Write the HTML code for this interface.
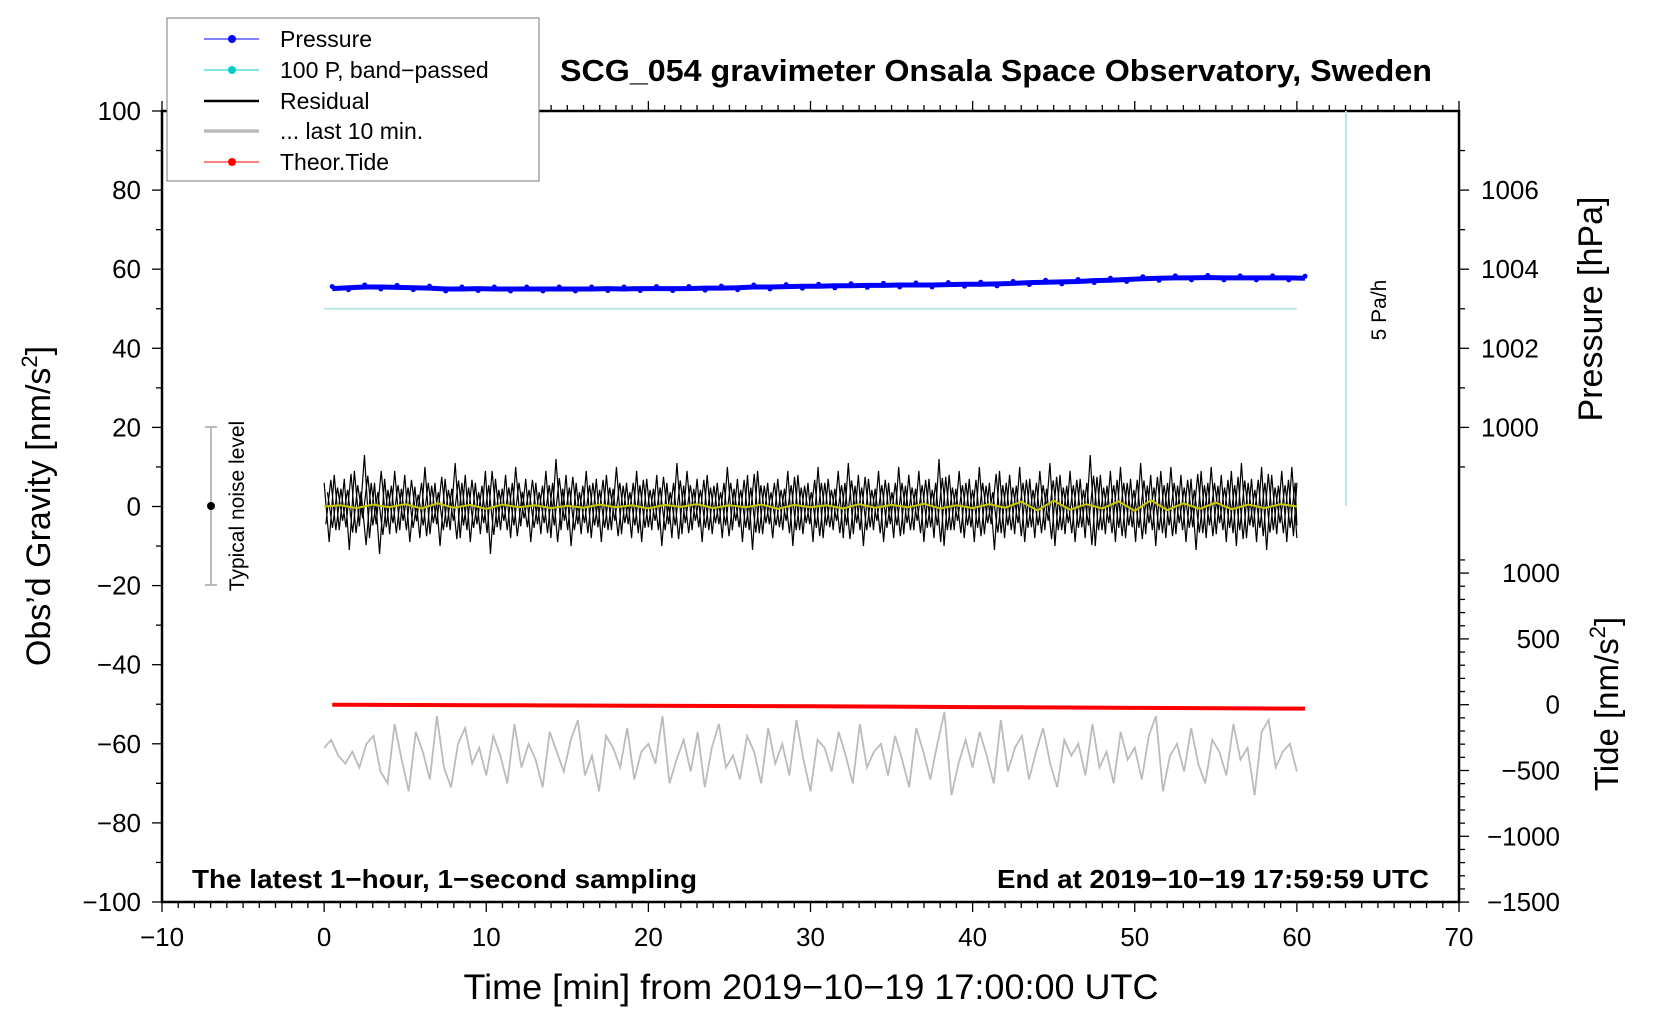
<!DOCTYPE html>
<html><head><meta charset="utf-8"><style>
html,body{margin:0;padding:0;background:#fff;}
svg{display:block;font-family:"Liberation Sans",sans-serif;}
</style></head><body>
<svg id="chart" width="1660" height="1020" viewBox="0 0 1660 1020" xmlns="http://www.w3.org/2000/svg">
<rect width="1660" height="1020" fill="#fff"/>
<g id="axes"></g>
<g id="series"></g>
<text x="996" y="81" text-anchor="middle" font-size="31" font-weight="bold" textLength="872" lengthAdjust="spacingAndGlyphs">SCG_054 gravimeter Onsala Space Observatory, Sweden</text>
<text x="811" y="999" text-anchor="middle" font-size="35" textLength="695" lengthAdjust="spacingAndGlyphs">Time [min] from 2019−10−19 17:00:00 UTC</text>
<text transform="translate(50,506) rotate(-90)" text-anchor="middle" font-size="34">Obs’d Gravity [nm/s<tspan dy="-13" font-size="22">2</tspan><tspan dy="13">]</tspan></text>
<text transform="translate(1602,309) rotate(-90)" text-anchor="middle" font-size="34">Pressure [hPa]</text>
<text transform="translate(1618,704) rotate(-90)" text-anchor="middle" font-size="33">Tide [nm/s<tspan dy="-13" font-size="22">2</tspan><tspan dy="13">]</tspan></text>
<text x="192" y="888" font-size="26" font-weight="bold" textLength="505" lengthAdjust="spacingAndGlyphs">The latest 1−hour, 1−second sampling</text>
<text x="1429" y="888" text-anchor="end" font-size="26" font-weight="bold" textLength="432" lengthAdjust="spacingAndGlyphs">End at 2019−10−19 17:59:59 UTC</text>
<g>
<line x1="211" y1="427" x2="211" y2="585" stroke="#bbb" stroke-width="2"/>
<line x1="205" y1="427" x2="217" y2="427" stroke="#bbb" stroke-width="2"/>
<line x1="205" y1="585" x2="217" y2="585" stroke="#bbb" stroke-width="2"/>
<circle cx="211" cy="506" r="4" fill="#000"/>
<text transform="translate(244,506) rotate(-90)" text-anchor="middle" font-size="21">Typical noise level</text>
</g>
<g>
<line x1="1346" y1="111" x2="1346" y2="506" stroke="#b8e6ea" stroke-width="2"/>
<text transform="translate(1386,310) rotate(-90)" text-anchor="middle" font-size="21">5 Pa/h</text>
</g>
<g>
<rect x="167" y="18" width="372" height="163" fill="#fff" stroke="#777" stroke-width="1"/>
<g><line x1="204" y1="39" x2="259" y2="39" stroke="#00f" stroke-width="1"/><circle cx="232" cy="39" r="4" fill="#00f"/><text x="280" y="47" font-size="23">Pressure</text></g>
<g><line x1="204" y1="70" x2="259" y2="70" stroke="#00cccc" stroke-width="1"/><circle cx="232" cy="70" r="4" fill="#00cccc"/><text x="280" y="78" font-size="23">100 P, band−passed</text></g>
<g><line x1="204" y1="101" x2="259" y2="101" stroke="#000" stroke-width="2.5"/><text x="280" y="109" font-size="23">Residual</text></g>
<g><line x1="204" y1="131" x2="259" y2="131" stroke="#bbb" stroke-width="3.5"/><text x="280" y="139" font-size="23">... last 10 min.</text></g>
<g><line x1="204" y1="162" x2="259" y2="162" stroke="#f00" stroke-width="1"/><circle cx="232" cy="162" r="4" fill="#f00"/><text x="280" y="170" font-size="23">Theor.Tide</text></g>
</g>
</svg>
<script>
const xTicks=[-10,0,10,20,30,40,50,60,70];
const gTicks=[100,80,60,40,20,0,-20,-40,-60,-80,-100];
const pTicks=[1000,1002,1004,1006];
const tTicks=[1000,500,0,-500,-1000,-1500];
const pressure=[1003.51,1003.53,1003.55,1003.55,1003.54,1003.53,1003.52,1003.50,1003.50,1003.51,1003.50,1003.50,1003.50,1003.50,1003.50,1003.50,1003.50,1003.51,1003.50,1003.51,1003.51,1003.51,1003.51,1003.52,1003.52,1003.53,1003.55,1003.55,1003.56,1003.57,1003.57,1003.58,1003.58,1003.59,1003.59,1003.60,1003.60,1003.60,1003.61,1003.62,1003.62,1003.63,1003.64,1003.66,1003.67,1003.68,1003.69,1003.71,1003.72,1003.74,1003.76,1003.77,1003.78,1003.78,1003.79,1003.78,1003.78,1003.78,1003.78,1003.78,1003.77];
const bandPassed=[50,50];
const residual=[6,-9,8,-6,7,-11,9,-5,13,-8,6,-12,7,-7,9,-6,8,-9,5,-8,10,-7,6,-10,7,-6,11,-8,8,-9,6,-7,9,-12,7,-6,8,-8,10,-5,7,-9,6,-7,9,-8,12,-6,8,-10,6,-7,9,-8,7,-9,8,-6,10,-7,6,-8,9,-9,7,-6,8,-10,6,-8,11,-7,9,-6,7,-9,8,-7,6,-8,10,-6,7,-9,8,-11,9,-7,6,-8,7,-6,9,-10,8,-7,6,-9,10,-8,7,-6,9,-8,11,-7,8,-10,7,-6,9,-9,6,-8,10,-7,8,-6,9,-9,7,-8,12,-10,8,-6,9,-8,7,-9,10,-7,6,-11,9,-8,8,-7,10,-9,7,-8,9,-6,11,-10,8,-7,9,-9,7,-8,13,-10,8,-7,9,-9,10,-8,7,-9,11,-7,8,-10,9,-8,10,-7,8,-9,7,-11,9,-8,10,-7,8,-9,9,-10,11,-8,7,-9,10,-11,8,-7,9,-9,10,-8];
const smoothed=[0,0.3,-0.4,0.5,-0.2,0.6,-0.5,0.8,-0.3,0.4,-0.6,0.5,-0.2,0.3,-0.4,0.2,-0.3,0.5,-0.2,0.3,-0.5,0.4,-0.1,0.6,-0.4,0.3,-0.2,0.5,-0.6,0.4,-0.2,0.3,-0.5,0.6,-0.3,0.4,-0.2,0.7,-0.5,0.3,-0.4,0.6,-0.3,1.2,-1.0,1.5,-0.8,0.6,-0.5,1.3,-1.1,1.6,-0.9,0.8,-0.6,1.0,-0.7,0.5,-0.4,0.6,0];
const tideT=[0.5,10,20,30,40,50,60.5];
const tide=[0,-4,-8,-12,-18,-24,-30];
const lastTen=[-61,-59,-63,-65,-62,-66,-60,-58,-67,-70,-55,-64,-72,-57,-62,-69,-53,-66,-71,-60,-56,-65,-61,-68,-58,-63,-70,-55,-66,-60,-64,-71,-57,-62,-67,-59,-54,-68,-63,-72,-58,-61,-66,-56,-69,-62,-60,-65,-53,-70,-64,-59,-67,-57,-71,-61,-55,-66,-63,-69,-58,-62,-70,-56,-65,-60,-68,-54,-64,-72,-59,-61,-67,-57,-63,-70,-55,-66,-62,-60,-68,-58,-64,-71,-56,-62,-69,-60,-52,-73,-65,-59,-66,-57,-63,-70,-54,-67,-61,-58,-69,-62,-56,-65,-71,-59,-63,-60,-68,-55,-66,-62,-70,-57,-64,-61,-69,-58,-53,-72,-63,-60,-67,-56,-65,-70,-59,-62,-68,-55,-64,-61,-73,-57,-54,-66,-62,-60,-67];

const L=162,R=1459,T=111,B=902;
const X=t=>L+(t+10)*(R-L)/80;
const Y=g=>T+(100-g)*(B-T)/200;
const YP=p=>Y(20+(p-1000)*10);
const YT=v=>704.7-v*0.1316;
const NS='http://www.w3.org/2000/svg';
const axes=document.getElementById('axes'), ser=document.getElementById('series');
function mk(tag,attrs,parent){const e=document.createElementNS(NS,tag);for(const k in attrs)e.setAttribute(k,attrs[k]);parent.appendChild(e);return e;}

let frame=mk('rect',{x:L,y:T,width:R-L,height:B-T,fill:'none',stroke:'#000','stroke-width':2.5},axes);



for(let t=-10;t<=70;t++){
  const major=t%10===0, len=major?10:6;
  mk('line',{x1:X(t),y1:B,x2:X(t),y2:B+len,stroke:'#000','stroke-width':1.3},axes);
  mk('line',{x1:X(t),y1:T,x2:X(t),y2:T-len,stroke:'#000','stroke-width':1.3},axes);
}
xTicks.forEach(t=>{
  const e=mk('text',{x:X(t),y:946,'text-anchor':'middle','font-size':26},axes);
  e.textContent=String(t).replace('-','−');
  
  
});
for(let g=-100;g<=100;g+=10){
  const len=g%20===0?10:6;
  mk('line',{x1:L,y1:Y(g),x2:L-len,y2:Y(g),stroke:'#000','stroke-width':1.3},axes);
}
gTicks.forEach(g=>{
  const e=mk('text',{x:141,y:Y(g)+9,'text-anchor':'end','font-size':26},axes);
  e.textContent=String(g).replace('-','−');
  
  
});
for(let p=1000;p<=1007;p++){
  const len=p%2===0?10:6;
  mk('line',{x1:R,y1:YP(p),x2:R+len,y2:YP(p),stroke:'#000','stroke-width':1.3},axes);
}
mk('line',{x1:R,y1:YP(999),x2:R+6,y2:YP(999),stroke:'#000','stroke-width':1.3},axes);
pTicks.forEach(p=>{
  const e=mk('text',{x:1481,y:YP(p)+9,'font-size':26},axes);
  e.textContent=p;
  
  
});
for(let v=-1500;v<=1100;v+=100){
  const len=v%500===0?10:6;
  mk('line',{x1:R,y1:YT(v),x2:R+len,y2:YT(v),stroke:'#000','stroke-width':1.3},axes);
}
tTicks.forEach(v=>{
  const e=mk('text',{x:1560,y:YT(v)+9,'text-anchor':'end','font-size':26},axes);
  e.textContent=String(v).replace('-','−');
  
  
});

const bp=mk('line',{x1:X(0),y1:Y(bandPassed[0]),x2:X(60),y2:Y(bandPassed[1]),stroke:'#b8e6ea','stroke-width':2},ser);



const pp=mk('polyline',{points:pressure.map((p,i)=>X(0.5+i)+','+YP(p)).join(' '),fill:'none',stroke:'#00f','stroke-width':5},ser);


pressure.forEach((p,i)=>{
  const c=mk('circle',{cx:X(0.5+i),cy:YP(p)+(i%2?2:-2),r:2.5,fill:'#00f'},ser);
  
  
});

const rn=residual.length;
[[0,1],[0.33,-0.75],[0.66,0.6]].forEach(([off,sc])=>{
  const rp=mk('polyline',{points:residual.map((v,i)=>X(Math.min(60,(i+off)*60/(rn-1)))+','+Y(v*sc)).join(' '),fill:'none',stroke:'#000','stroke-width':1.2},ser);
  
  
});

const sp=mk('polyline',{points:smoothed.map((v,i)=>X(i)+','+Y(v)).join(' '),fill:'none',stroke:'#c8c800','stroke-width':2},ser);



const tp=mk('polyline',{points:tide.map((v,i)=>X(tideT[i])+','+YT(v)).join(' '),fill:'none',stroke:'#f00','stroke-width':4},ser);



const ln=lastTen.length;
const gp=mk('polyline',{points:lastTen.map((v,i)=>X(i*60/(ln-1))+','+Y(v)).join(' '),fill:'none',stroke:'#bbb','stroke-width':1.8},ser);


</script>
</body></html>
